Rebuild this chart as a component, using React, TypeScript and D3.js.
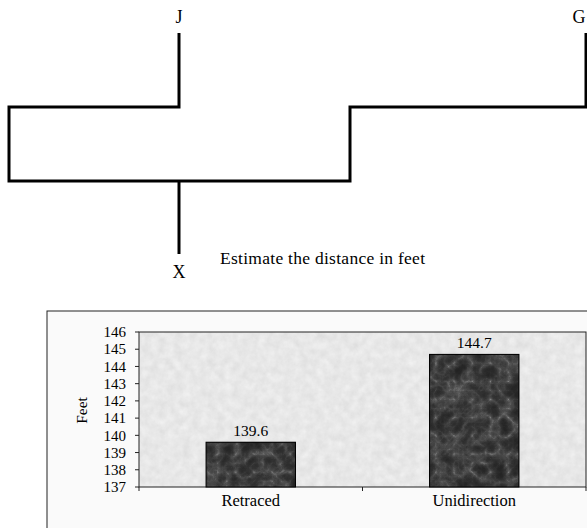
import React from "react";
import * as d3 from "d3";

const categories = ["Retraced", "Unidirection"];
const values = [139.6, 144.7];
const yDomain = [137, 146];
const yTickValues = d3.range(137, 147);
const yLabel = "Feet";
const caption = "Estimate the distance in feet";
const nodeLabels = ["J", "G", "X"];

const W = 587;
const H = 528;
const FONT = "'Liberation Serif', 'DejaVu Serif', serif";

export default function App() {
  const plot = { left: 139, right: 586, top: 332, bottom: 487 };
  const x = d3.scaleBand<string>().domain(categories).range([plot.left, plot.right]).paddingInner(0.6).paddingOuter(0.3);
  const xOuter = d3.scaleBand<string>().domain(categories).range([plot.left, plot.right]);
  const y = d3.scaleLinear().domain(yDomain).range([plot.bottom, plot.top]);

  const lw = 3;
  const diagram = [
    "M179,33 V107 H9 V181 H350 V107 H586 V33",
    "M179,181 V254",
  ];

  const bottomTicks = [plot.left, ...categories.map((c) => (xOuter(c) as number) + xOuter.bandwidth())];

  return (
    <svg width={W} height={H} style={{ position: "absolute", left: 0, top: 0, display: "block", background: "#fff" }}>
      <defs>
        <filter id="bgTex" x="0" y="0" width="1" height="1" colorInterpolationFilters="sRGB">
          <feTurbulence type="fractalNoise" baseFrequency="0.12" numOctaves="4" seed="7" />
          <feColorMatrix type="saturate" values="0" />
          <feComponentTransfer>
            <feFuncR type="linear" slope="0.12" intercept="0.85" />
            <feFuncG type="linear" slope="0.12" intercept="0.85" />
            <feFuncB type="linear" slope="0.12" intercept="0.85" />
            <feFuncA type="linear" slope="0" intercept="1" />
          </feComponentTransfer>
        </filter>
        <filter id="barTex" x="0" y="0" width="1" height="1" colorInterpolationFilters="sRGB">
          <feTurbulence type="turbulence" baseFrequency="0.055" numOctaves="5" seed="11" />
          <feColorMatrix type="saturate" values="0" />
          <feComponentTransfer>
            <feFuncR type="table" tableValues="0.5 0.3 0.2 0.15 0.13 0.12" />
            <feFuncG type="table" tableValues="0.5 0.3 0.2 0.15 0.13 0.12" />
            <feFuncB type="table" tableValues="0.5 0.3 0.2 0.15 0.13 0.12" />
            <feFuncA type="linear" slope="0" intercept="1" />
          </feComponentTransfer>
        </filter>
      </defs>

      {/* diagram */}
      {diagram.map((d, i) => (
        <path key={i} d={d} fill="none" stroke="#000" strokeWidth={lw} strokeLinejoin="miter" />
      ))}
      <text x={179} y={23} fontFamily={FONT} fontSize={18} textAnchor="middle">{nodeLabels[0]}</text>
      <text x={579} y={23} fontFamily={FONT} fontSize={18} textAnchor="middle">{nodeLabels[1]}</text>
      <text x={179} y={278} fontFamily={FONT} fontSize={18} textAnchor="middle">{nodeLabels[2]}</text>
      <text x={220} y={264} fontFamily={FONT} fontSize={17.5} textLength={205} lengthAdjust="spacing">{caption}</text>

      {/* chart frame */}
      <rect x={47} y={311} width={W} height={H} fill="#fafafa" stroke="#222" strokeWidth={1} />

      {/* plot area */}
      <rect x={plot.left} y={plot.top} width={plot.right - plot.left} height={plot.bottom - plot.top} filter="url(#bgTex)" />
      <rect x={plot.left} y={plot.top} width={plot.right - plot.left} height={plot.bottom - plot.top} fill="none" stroke="#222" strokeWidth={1} />

      {categories.map((c, i) => {
        const bx = x(c) as number;
        const by = y(values[i]);
        return (
          <g key={c}>
            <rect x={bx} y={by} width={x.bandwidth()} height={plot.bottom - by} filter="url(#barTex)" />
            <rect x={bx} y={by} width={x.bandwidth()} height={plot.bottom - by} fill="none" stroke="#000" strokeWidth={1} />
            <text x={bx + x.bandwidth() / 2} y={by - 6} fontFamily={FONT} fontSize={15.5} textAnchor="middle">{values[i].toFixed(1)}</text>
            <text x={bx + x.bandwidth() / 2} y={plot.bottom + 19} fontFamily={FONT} fontSize={16.5} textAnchor="middle">{c}</text>
          </g>
        );
      })}

      {/* y axis */}
      {yTickValues.map((t) => (
        <g key={t}>
          <line x1={plot.left - 4} x2={plot.left} y1={y(t)} y2={y(t)} stroke="#222" />
          <text x={plot.left - 13} y={y(t)} dy="0.35em" fontFamily={FONT} fontSize={15} textAnchor="end">{t}</text>
        </g>
      ))}
      {bottomTicks.map((tx, i) => (
        <line key={i} x1={tx} x2={tx} y1={plot.bottom} y2={plot.bottom + 4} stroke="#222" />
      ))}
      <text transform={`translate(87,${(plot.top + plot.bottom) / 2 + 1}) rotate(-90)`} fontFamily={FONT} fontSize={15.5} textAnchor="middle">{yLabel}</text>
    </svg>
  );
}
